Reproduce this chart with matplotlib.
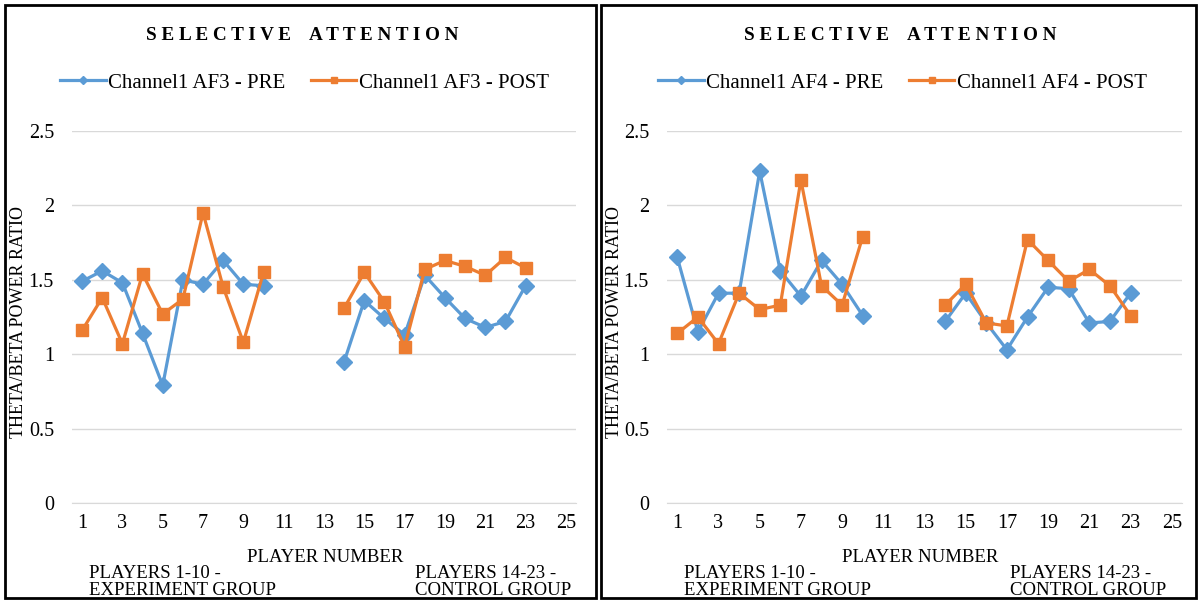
import numpy as np
import matplotlib.pyplot as plt
from matplotlib.lines import Line2D
from matplotlib.patches import Rectangle

plt.rcParams['font.family'] = ['Liberation Serif', 'DejaVu Serif']

W, H = 1198, 602
nan = np.nan

players = list(range(1, 26))
x_ticks = list(range(1, 26, 2))
y_ticks = [0, 0.5, 1, 1.5, 2, 2.5]

# theta/beta ratio per player, players 11-13 and 24-25 have no recording
af3_pre = [1.49, 1.56, 1.48, 1.14, 0.79, 1.50, 1.47, 1.63, 1.47, 1.46,
           nan, nan, nan,
           0.95, 1.36, 1.24, 1.13, 1.53, 1.38, 1.24, 1.18, 1.22, 1.46,
           nan, nan]
af3_post = [1.16, 1.38, 1.07, 1.54, 1.27, 1.37, 1.95, 1.45, 1.08, 1.55,
            nan, nan, nan,
            1.31, 1.55, 1.35, 1.05, 1.57, 1.63, 1.59, 1.53, 1.65, 1.58,
            nan, nan]
af4_pre = [1.65, 1.15, 1.41, 1.41, 2.23, 1.56, 1.39, 1.63, 1.47, 1.26,
           nan, nan, nan,
           1.22, 1.41, 1.21, 1.03, 1.25, 1.45, 1.44, 1.21, 1.22, 1.41,
           nan, nan]
af4_post = [1.14, 1.25, 1.07, 1.41, 1.30, 1.33, 2.17, 1.46, 1.33, 1.79,
            nan, nan, nan,
            1.33, 1.47, 1.21, 1.19, 1.77, 1.63, 1.49, 1.57, 1.46, 1.26,
            nan, nan]

BLUE = '#5B9BD5'
ORANGE = '#ED7D31'
GRID = '#D9D9D9'


def px(x, y):
    return x / W, 1 - y / H


fig = plt.figure(figsize=(W / 100, H / 100), dpi=100)

panels = [
    dict(x0=5, x1=596, ax_l=72, ax_r=576, chan='AF3', pre=af3_pre, post=af3_post),
    dict(x0=601, x1=1196, ax_l=667, ax_r=1182, chan='AF4', pre=af4_pre, post=af4_post),
]

for p in panels:
    # frame around each chart
    fig.patches.append(Rectangle(px(p['x0'], 598), (p['x1'] - p['x0']) / W, 593 / H,
                                 transform=fig.transFigure, fill=False,
                                 edgecolor='black', linewidth=2))

    left, bottom = px(p['ax_l'], 503)
    ax = fig.add_axes([left, bottom, (p['ax_r'] - p['ax_l']) / W, 372 / H])
    ax.plot(players, p['pre'], color=BLUE, lw=2.3, marker='D', ms=8,
            label=f"Channel1 {p['chan']} - PRE")
    ax.plot(players, p['post'], color=ORANGE, lw=2.3, marker='s', ms=8.5,
            label=f"Channel1 {p['chan']} - POST")

    ax.set_xlim(0.5, 25.5)
    ax.set_ylim(0, 2.5)
    ax.set_xticks(x_ticks)
    ax.set_yticks(y_ticks)
    ax.set_yticklabels(['0', '0.5', '1', '1.5', '2', '2.5'])
    ax.tick_params(length=0, labelsize=14.5)
    ax.tick_params(axis='x', pad=8)
    ax.tick_params(axis='y', pad=13)
    ax.grid(axis='y', color=GRID, lw=1)
    ax.set_axisbelow(True)
    for side in ['top', 'right', 'left']:
        ax.spines[side].set_visible(False)
    ax.spines['bottom'].set_color(GRID)

    cx = (p['x0'] + p['x1']) / 2
    fig.text(*px(cx + 2, 36), 'S E L E C T I V E    A T T E N T I O N',
             ha='center', va='center', fontsize=13.8, fontweight='bold')

    handles = [
        Line2D([], [], color=BLUE, lw=2.3, marker='D', ms=4.5),
        Line2D([], [], color=ORANGE, lw=2.3, marker='s', ms=5),
    ]
    fig.legend(handles, [f"Channel1 {p['chan']} - PRE", f"Channel1 {p['chan']} - POST"],
               loc='center', bbox_to_anchor=px(cx + 4, 83), ncol=2, frameon=False,
               fontsize=15, handlelength=2.2, handletextpad=0.1, columnspacing=1.2)

    fig.text(*px(p['x0'] + 14, 322), 'THETA/BETA POWER RATIO', rotation=90,
             ha='center', va='center', fontsize=13)
    fig.text(*px(p['ax_l'] + 253, 557), 'PLAYER NUMBER', ha='center', va='center',
             fontsize=13.5)
    fig.text(*px(p['ax_l'] + 17, 582), 'PLAYERS 1-10 -\nEXPERIMENT GROUP',
             ha='left', va='center', fontsize=13.5, linespacing=1.0)
    fig.text(*px(p['ax_l'] + 343, 582), 'PLAYERS 14-23 -\nCONTROL GROUP',
             ha='left', va='center', fontsize=13.5, linespacing=1.0)

fig.savefig('out.png', dpi=100)
